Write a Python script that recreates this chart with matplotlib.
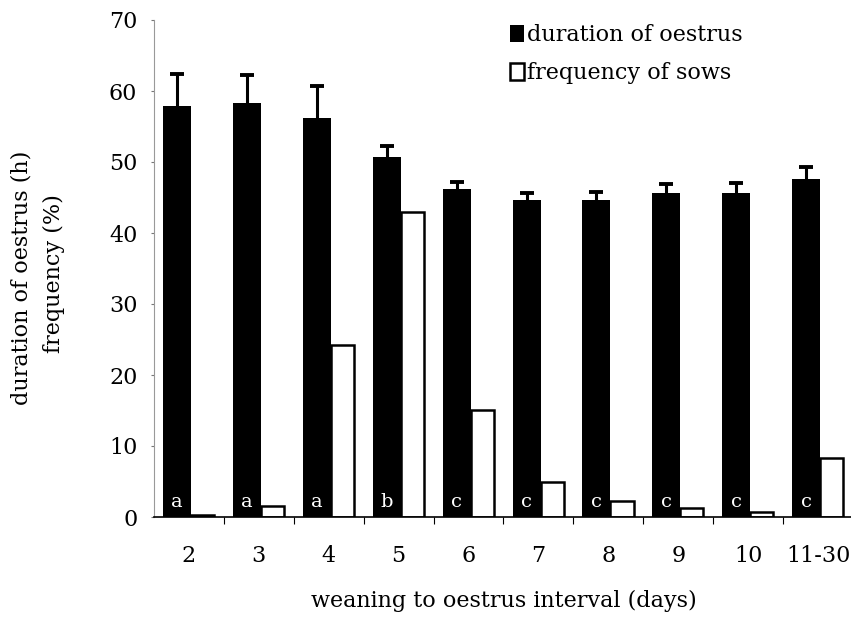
import matplotlib
matplotlib.use("Agg")
import matplotlib.pyplot as plt
import numpy as np

categories = ["2", "3", "4", "5", "6", "7", "8", "9", "10", "11-30"]
duration = [57.9, 58.3, 56.2, 50.7, 46.2, 44.7, 44.7, 45.7, 45.7, 47.6]
duration_err = [4.5, 3.9, 4.5, 1.5, 1.0, 1.0, 1.1, 1.2, 1.3, 1.7]
frequency = [0.3, 1.6, 24.2, 43.0, 15.1, 5.0, 2.2, 1.2, 0.7, 8.3]
letters = ["a", "a", "a", "b", "c", "c", "c", "c", "c", "c"]

FONT = "DejaVu Serif"
plt.rcParams["font.family"] = [FONT]
FS = 16

W, H = 851, 618
fig = plt.figure(figsize=(W / 100, H / 100), dpi=100)
ax = fig.add_axes([154 / W, (H - 517) / H, 699 / W, 497 / H])

x = np.arange(len(categories))
bwb = 0.40
bww = 0.33
xb = x - 0.37 + bwb / 2
xw = x + 0.03 + bww / 2
ax.bar(xb, duration, width=bwb, color="black", edgecolor="black",
       linewidth=0, label="duration of oestrus", zorder=2)
eb = ax.errorbar(xb, duration, yerr=[np.zeros(len(x)), duration_err],
                 fmt="none", ecolor="black", elinewidth=2.2, capsize=5, capthick=2.8, zorder=3)
eb.lines[1][0].set_visible(False)
ax.bar(xw, frequency, width=bww, color="white", edgecolor="black",
       linewidth=1.8, label="frequency of sows", zorder=2)

for xi, lt in zip(xb, letters):
    ax.text(xi, 2.1, lt, color="white", ha="center", va="center", fontsize=14)

ax.set_xlim(-0.5, len(categories) - 0.5)
ax.set_ylim(0, 70)
ax.set_yticks(np.arange(0, 71, 10))
ax.set_xticks(x)
ax.set_xticklabels(categories)
ax.set_xticks(np.arange(len(categories) - 1) + 0.5, minor=True)
ax.tick_params(axis="x", which="major", length=0, pad=20, labelsize=FS)
ax.tick_params(axis="x", which="minor", length=5, width=0.8, direction="out")
ax.tick_params(axis="y", length=2, width=0.8, pad=10, labelsize=FS, color="#777777")

for s in ["top", "right"]:
    ax.spines[s].set_visible(False)
ax.spines["left"].set_color("#999999")
ax.spines["left"].set_linewidth(0.8)
ax.spines["bottom"].set_linewidth(1.2)

ax.set_xlabel("weaning to oestrus interval (days)", fontsize=FS, labelpad=17)

fig.text(22 / W, 1 - 278 / H, "duration of oestrus (h)", rotation=90,
         ha="center", va="center", fontsize=FS)
fig.text(54 / W, 1 - 274 / H, "frequency (%)", rotation=90,
         ha="center", va="center", fontsize=FS)

leg = ax.legend(loc="upper left", bbox_to_anchor=(499 / W, 1 - 13 / H),
                bbox_transform=fig.transFigure, frameon=False, fontsize=FS,
                handlelength=0.62, handleheight=0.78, handletextpad=0.15,
                labelspacing=0.72, borderpad=0)

fig.savefig("out.png", dpi=100)
